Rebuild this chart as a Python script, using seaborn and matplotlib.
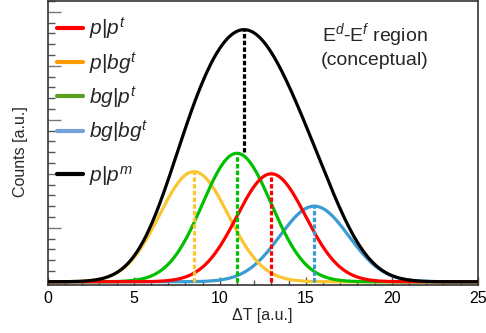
import numpy as np
import pandas as pd
import matplotlib
matplotlib.use("Agg")
import matplotlib.pyplot as plt
from matplotlib.lines import Line2D
import seaborn as sns

# Timing-difference components (conceptual Gaussians)
components = ["p|bg", "bg|p", "p|p", "bg|bg"]
means = [8.5, 11.0, 13.0, 15.5]
sigmas = [2.0, 2.0, 2.0, 2.0]
amplitudes = [102, 119, 100, 70]
curve_colors = ["#fbc532", "#00c000", "#ff0000", "#3c9bd2"]

# Legend entries (label, handle colour)
legend_labels = [r"$p|p^{t}$", r"$p|bg^{t}$", r"$bg|p^{t}$", r"$bg|bg^{t}$"]
legend_colors = ["#ff0000", "#ff9a00", "#5a9e1e", "#72a2d8"]
sum_label = r"$p|p^{m}$"
sum_marker_floor = 120

x_range = (0, 25)
y_range = (-3, 260)

sns.set_theme(style="ticks")
plt.rcParams["font.family"] = ["Liberation Sans", "DejaVu Sans"]
plt.rcParams["mathtext.fontset"] = "custom"
plt.rcParams["mathtext.it"] = "Liberation Sans:italic"
plt.rcParams["mathtext.rm"] = "Liberation Sans"

x = np.linspace(x_range[0], x_range[1], 1001)
frames = []
for name, mu, sg, amp in zip(components, means, sigmas, amplitudes):
    frames.append(pd.DataFrame({"dT": x, "counts": amp * np.exp(-0.5 * ((x - mu) / sg) ** 2),
                                "comp": name}))
df = pd.concat(frames, ignore_index=True)
total = df.groupby("dT", sort=True)["counts"].sum().reset_index()

fig = plt.figure(figsize=(4.86, 3.33), dpi=100)
ax = fig.add_axes([47.7 / 486, 48 / 333, 430 / 486, 284 / 333])

draw_order = ["bg|bg", "p|bg", "bg|p", "p|p"]
palette = dict(zip(components, curve_colors))
for name in draw_order:
    sns.lineplot(data=df[df["comp"] == name], x="dT", y="counts", color=palette[name],
                 lw=2.3, ax=ax, legend=False, zorder=3)
sns.lineplot(data=total, x="dT", y="counts", color="black", lw=2.3, ax=ax,
             legend=False, zorder=4)

# dotted markers at each peak
dots = (0, (1.4, 0.7))
for mu, amp, c in zip(means, amplitudes, curve_colors):
    ax.plot([mu, mu], [0, amp], color=c, lw=2.3, ls=dots, zorder=5)
imax = total["counts"].idxmax()
xpk, ypk = total.loc[imax, "dT"], total.loc[imax, "counts"]
ax.plot([xpk, xpk], [sum_marker_floor, ypk], color="black", lw=2.3, ls=dots, zorder=5)

ax.set_xlim(*x_range)
ax.set_ylim(*y_range)
ax.set_xticks(np.arange(0, 26, 5))
ax.set_xticks(np.arange(0, 26, 1), minor=True)
ax.set_yticks(np.arange(0, 251, 50))
ax.set_yticks(np.arange(0, 261, 10), minor=True)
ax.set_yticklabels([])
ax.tick_params(axis="x", which="major", direction="in", length=6, width=1,
               color="#555555", labelsize=11.5, pad=4, labelcolor="black")
ax.tick_params(axis="x", which="minor", direction="in", length=3.5, width=1, color="#555555")
ax.tick_params(axis="y", which="major", direction="in", length=9, width=1, color="#777777")
ax.tick_params(axis="y", which="minor", direction="in", length=5, width=1, color="#555555")
for s in ax.spines.values():
    s.set_visible(True)
    s.set_color("#333333")
    s.set_linewidth(1.2)

ax.set_xlabel("ΔT [a.u.]", fontsize=11.5, labelpad=2)
ax.set_ylabel("Counts [a.u.]", fontsize=11.5)
ax.yaxis.set_label_coords(-0.045, 0.47)

handles = [Line2D([], [], color=c, lw=3) for c in legend_colors]
leg1 = ax.legend(handles, legend_labels, loc="upper left", bbox_to_anchor=(-0.012, 1.0),
                 frameon=False, fontsize=15, handlelength=1.25, handletextpad=0.3,
                 labelspacing=0.4, borderaxespad=0.3)
ax.add_artist(leg1)
ax.legend([Line2D([], [], color="black", lw=3)], [sum_label], loc="upper left",
          bbox_to_anchor=(-0.012, 0.479), frameon=False, fontsize=15, handlelength=1.25,
          handletextpad=0.3, borderaxespad=0.3)

ax.text(0.761, 0.93, "E$^{d}$-E$^{f}$ region\n(conceptual)", transform=ax.transAxes,
        ha="center", va="top", fontsize=14, linespacing=1.25, multialignment="center")

fig.savefig("out.png", dpi=100)
